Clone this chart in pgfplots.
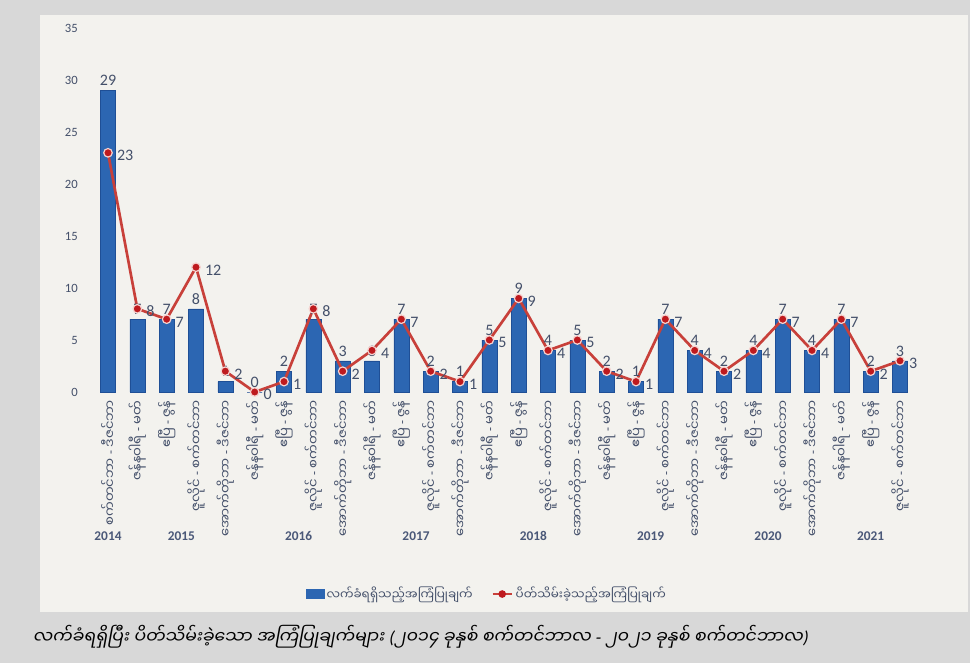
\documentclass[border=0pt]{standalone}
\usepackage{pgfplots}
\usepackage{pgfplotstable}
\pgfplotsset{compat=1.18}
\usepackage{fontspec}
\setmainfont{Carlito}
\newfontfamily\mm[Script=Myanmar]{Noto Sans Myanmar UI}
\newfontfamily\mmit[Script=Myanmar,FakeSlant=0.18]{Noto Sans Myanmar UI}
\newfontfamily\lat{Carlito}
\newfontfamily\latit[FakeSlant=0.18]{Carlito}
\newcommand\dsh{{\lat -}}
\definecolor{bgouter}{HTML}{D8D8D8}
\definecolor{bginner}{HTML}{F3F2EE}
\definecolor{barcol}{HTML}{2C66B2}
\definecolor{bardark}{HTML}{1F4F96}
\definecolor{linered}{HTML}{C8403A}
\definecolor{mkred}{HTML}{BE1A1E}
\definecolor{mkedge}{HTML}{F6D2CF}
\definecolor{txt}{HTML}{44506A}
\definecolor{yr}{HTML}{4A5878}

\pgfplotstableread{
x recv closed
0 29 23
1 7 8
2 7 7
3 8 12
4 1 2
5 0 0
6 2 1
7 7 8
8 3 2
9 3 4
10 7 7
11 2 2
12 1 1
13 5 5
14 9 9
15 4 4
16 5 5
17 2 2
18 1 1
19 7 7
20 4 4
21 2 2
22 4 4
23 7 7
24 4 4
25 7 7
26 2 2
27 3 3
}\data

\begin{document}
\begin{tikzpicture}
\path[use as bounding box] (0,0) rectangle (727.5pt,-497.25pt);
\fill[bgouter] (0,0) rectangle (727.5pt,-497.25pt);
\fill[bginner] (30pt,-11.25pt) rectangle (726pt,-459pt);
\begin{axis}[
  at={(67.8pt,-294pt)}, anchor=south west,
  scale only axis, width=620.4pt, height=273pt,
  xmin=-0.6, xmax=27.6, ymin=0, ymax=35,
  ytick={0,5,...,35},
  xtick={0,...,27},
  xticklabels={
    {စက်တင်ဘာ \dsh{} ဒီဇင်ဘာ},
    {ဇန်နဝါရီ \dsh{} မတ်},{ဧပြီ \dsh{} ဇွန်},{ဇူလိုင် \dsh{} စက်တင်ဘာ},{အောက်တိုဘာ \dsh{} ဒီဇင်ဘာ},
    {ဇန်နဝါရီ \dsh{} မတ်},{ဧပြီ \dsh{} ဇွန်},{ဇူလိုင် \dsh{} စက်တင်ဘာ},{အောက်တိုဘာ \dsh{} ဒီဇင်ဘာ},
    {ဇန်နဝါရီ \dsh{} မတ်},{ဧပြီ \dsh{} ဇွန်},{ဇူလိုင် \dsh{} စက်တင်ဘာ},{အောက်တိုဘာ \dsh{} ဒီဇင်ဘာ},
    {ဇန်နဝါရီ \dsh{} မတ်},{ဧပြီ \dsh{} ဇွန်},{ဇူလိုင် \dsh{} စက်တင်ဘာ},{အောက်တိုဘာ \dsh{} ဒီဇင်ဘာ},
    {ဇန်နဝါရီ \dsh{} မတ်},{ဧပြီ \dsh{} ဇွန်},{ဇူလိုင် \dsh{} စက်တင်ဘာ},{အောက်တိုဘာ \dsh{} ဒီဇင်ဘာ},
    {ဇန်နဝါရီ \dsh{} မတ်},{ဧပြီ \dsh{} ဇွန်},{ဇူလိုင် \dsh{} စက်တင်ဘာ},{အောက်တိုဘာ \dsh{} ဒီဇင်ဘာ},
    {ဇန်နဝါရီ \dsh{} မတ်},{ဧပြီ \dsh{} ဇွန်},{ဇူလိုင် \dsh{} စက်တင်ဘာ}},
  axis line style={draw=none},
  major tick length=0pt,
  tick label style={text=txt},
  /pgf/number format/assume math mode=true,
  yticklabel style={font=\fontsize{9.5}{10}\selectfont, xshift=-6pt},
  xticklabel style={font=\mm\fontsize{9.8}{11}\selectfont, rotate=90, anchor=east, xshift=-3pt},
  clip=false,
  legend style={at={(0.48,-0.555)}, anchor=center, legend columns=2, draw=none, fill=none,
    font=\mm\fontsize{9}{10}\selectfont, text=txt,
    /tikz/every even column/.append style={column sep=12pt}},
]
\addplot[ybar, bar width=11.25pt, fill=barcol, draw=bardark, line width=0.3pt,
  nodes near coords, every node near coord/.append style={font=\fontsize{12}{13}\selectfont, text=txt, yshift=0pt},
  legend image code/.code={\fill[barcol] (0cm,-0.12cm) rectangle (0.45cm,0.12cm);}]
  table[x=x, y=recv] {\data};
\addlegendentry{လက်ခံရရှိသည့်အကြံပြုချက်}
\addplot[linered, line width=2pt, mark=*, mark size=3.2pt,
  mark options={fill=mkred, draw=mkedge, line width=0.9pt},
  nodes near coords, every node near coord/.append style={font=\fontsize{12}{13}\selectfont, text=txt, anchor=west, xshift=3pt, yshift=-2pt},
  legend image code/.code={\draw[linered, line width=2pt] (0cm,0cm) -- (0.5cm,0cm); \fill[mkred] (0.25cm,0cm) circle (1.8pt);}]
  table[x=x, y=closed] {\data};
\addlegendentry{ပိတ်သိမ်းခဲ့သည့်အကြံပြုချက်}
\node[font=\bfseries\fontsize{10}{12}\selectfont, text=yr, yshift=-108pt] at (axis cs:0,0) {2014};
\node[font=\bfseries\fontsize{10}{12}\selectfont, text=yr, yshift=-108pt] at (axis cs:2.5,0) {2015};
\node[font=\bfseries\fontsize{10}{12}\selectfont, text=yr, yshift=-108pt] at (axis cs:6.5,0) {2016};
\node[font=\bfseries\fontsize{10}{12}\selectfont, text=yr, yshift=-108pt] at (axis cs:10.5,0) {2017};
\node[font=\bfseries\fontsize{10}{12}\selectfont, text=yr, yshift=-108pt] at (axis cs:14.5,0) {2018};
\node[font=\bfseries\fontsize{10}{12}\selectfont, text=yr, yshift=-108pt] at (axis cs:18.5,0) {2019};
\node[font=\bfseries\fontsize{10}{12}\selectfont, text=yr, yshift=-108pt] at (axis cs:22.5,0) {2020};
\node[font=\bfseries\fontsize{10}{12}\selectfont, text=yr, yshift=-108pt] at (axis cs:26,0) {2021};
\end{axis}
\node[anchor=west, font=\mmit\fontsize{13}{15}\selectfont, text=black] at (21pt,-477.75pt)
  {လက်ခံရရှိပြီး ပိတ်သိမ်းခဲ့သော အကြံပြုချက်များ {\latit(}၂၀၁၄ ခုနှစ် စက်တင်ဘာလ {\latit -} ၂၀၂၁ ခုနှစ် စက်တင်ဘာလ{\latit)}};
\end{tikzpicture}
\end{document}
